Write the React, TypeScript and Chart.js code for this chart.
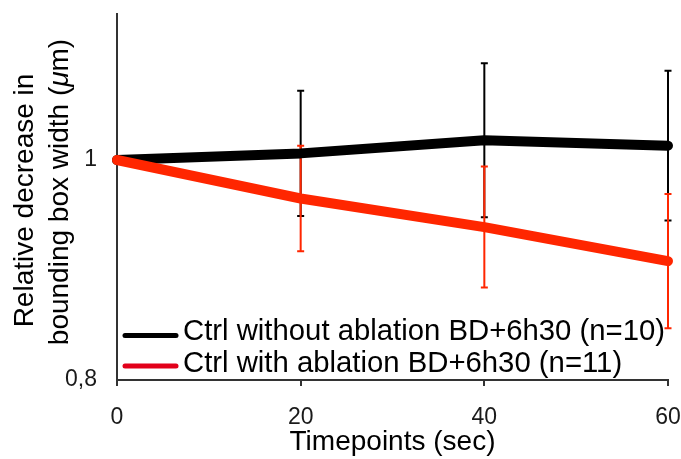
import React, { useEffect, useRef } from 'react';
import { Chart, registerables } from 'chart.js';

Chart.register(...registerables);

const FONT = '"Liberation Sans", Arial, Helvetica, sans-serif';

const timepoints = [0, 20, 40, 60];
const ctrlWithoutMean = [1.0, 1.006, 1.018, 1.013];
const ctrlWithoutErr = [0, 0.057, 0.07, 0.068];
const ctrlWithMean = [1.0, 0.965, 0.939, 0.908];
const ctrlWithErr = [0, 0.048, 0.055, 0.061];
const xTickValues = [0, 20, 40, 60];
const yTickValues = [0.8, 1.0];
const seriesLabels = ['Ctrl without ablation BD+6h30 (n=10)', 'Ctrl with ablation BD+6h30 (n=11)'];
const xTitle = 'Timepoints (sec)';
const yTitleLine1 = 'Relative decrease in';
const yTitleLine2Parts = ['bounding box width (', 'μ', 'm)'];

const BLACK = '#000000';
const RED = '#FF2600';
const LEGEND_RED = '#E2001A';

const errorBarPlugin = {
  id: 'errorBars',
  beforeDatasetsDraw(chart: any) {
    const { ctx, scales } = chart;
    const x = scales.x;
    const y = scales.y;
    const sets = [
      { mean: ctrlWithoutMean, err: ctrlWithoutErr, color: BLACK },
      { mean: ctrlWithMean, err: ctrlWithErr, color: RED },
    ];
    ctx.save();
    ctx.lineWidth = 2;
    ctx.lineCap = 'butt';
    for (const s of sets) {
      ctx.strokeStyle = s.color;
      for (let i = 0; i < timepoints.length; i++) {
        if (!s.err[i]) continue;
        const px = x.getPixelForValue(timepoints[i]);
        const top = y.getPixelForValue(s.mean[i] + s.err[i]);
        const bot = y.getPixelForValue(s.mean[i] - s.err[i]);
        ctx.beginPath();
        ctx.moveTo(px, top);
        ctx.lineTo(px, bot);
        ctx.moveTo(px - 3.5, top);
        ctx.lineTo(px + 3.5, top);
        ctx.moveTo(px - 3.5, bot);
        ctx.lineTo(px + 3.5, bot);
        ctx.stroke();
      }
    }
    ctx.restore();
  },
};

const overlayPlugin = {
  id: 'overlay',
  afterDraw(chart: any) {
    const { ctx } = chart;
    ctx.save();
    const rows = [
      { label: seriesLabels[0], color: BLACK, lineY: 335.5, baseY: 340 },
      { label: seriesLabels[1], color: LEGEND_RED, lineY: 366, baseY: 372 },
    ];
    ctx.font = `29.3px ${FONT}`;
    ctx.textBaseline = 'alphabetic';
    ctx.textAlign = 'left';
    for (const r of rows) {
      ctx.strokeStyle = r.color;
      ctx.lineWidth = 5;
      ctx.lineCap = 'round';
      ctx.beginPath();
      ctx.moveTo(125, r.lineY);
      ctx.lineTo(176, r.lineY);
      ctx.stroke();
      ctx.fillStyle = '#000';
      ctx.fillText(r.label, 183, r.baseY);
    }

    ctx.fillStyle = '#000';
    ctx.textBaseline = 'alphabetic';
    ctx.textAlign = 'left';
    ctx.save();
    ctx.translate(33, 200.5);
    ctx.rotate(-Math.PI / 2);
    ctx.font = `28px ${FONT}`;
    const w1 = ctx.measureText(yTitleLine1).width;
    ctx.fillText(yTitleLine1, -w1 / 2, 0);
    ctx.restore();
    ctx.save();
    ctx.translate(68, 192);
    ctx.rotate(-Math.PI / 2);
    const normal = `28px ${FONT}`;
    const italic = `italic 28px ${FONT}`;
    ctx.font = normal;
    const a = ctx.measureText(yTitleLine2Parts[0]).width;
    ctx.font = italic;
    const b = ctx.measureText(yTitleLine2Parts[1]).width;
    ctx.font = normal;
    const c = ctx.measureText(yTitleLine2Parts[2]).width;
    let cx = -(a + b + c) / 2;
    ctx.font = normal;
    ctx.fillText(yTitleLine2Parts[0], cx, 0);
    cx += a;
    ctx.font = italic;
    ctx.fillText(yTitleLine2Parts[1], cx, 0);
    cx += b;
    ctx.font = normal;
    ctx.fillText(yTitleLine2Parts[2], cx, 0);
    ctx.restore();

    ctx.restore();
  },
};

function zeroPadding(scale: any) {
  scale.paddingTop = 0;
  scale.paddingBottom = 0;
  scale.paddingLeft = 0;
  scale.paddingRight = 0;
}

export default function App() {
  const canvasRef = useRef<HTMLCanvasElement | null>(null);

  useEffect(() => {
    const canvas = canvasRef.current;
    if (!canvas) return;
    const chart = new Chart(canvas, {
      type: 'line',
      data: {
        datasets: [
          {
            label: seriesLabels[0],
            data: timepoints.map((t, i) => ({ x: t, y: ctrlWithoutMean[i] })),
            borderColor: BLACK,
            backgroundColor: BLACK,
            borderWidth: 10,
            pointRadius: 0,
            borderCapStyle: 'round',
            borderJoinStyle: 'round',
            tension: 0,
            clip: false,
            order: 2,
          },
          {
            label: seriesLabels[1],
            data: timepoints.map((t, i) => ({ x: t, y: ctrlWithMean[i] })),
            borderColor: RED,
            backgroundColor: RED,
            borderWidth: 10,
            pointRadius: 0,
            borderCapStyle: 'round',
            borderJoinStyle: 'round',
            tension: 0,
            clip: false,
            order: 1,
          },
        ],
      },
      options: {
        responsive: false,
        animation: false,
        devicePixelRatio: 1,
        layout: { autoPadding: false, padding: { left: 0, right: 13, top: 14, bottom: 0 } },
        plugins: {
          legend: { display: false },
          tooltip: { enabled: false },
        },
        scales: {
          x: {
            type: 'linear',
            min: 0,
            max: 60,
            afterBuildTicks: (scale: any) => {
              scale.ticks = xTickValues.map((v) => ({ value: v }));
            },
            afterFit: (scale: any) => {
              scale.height = 79;
              zeroPadding(scale);
            },
            ticks: {
              font: { family: FONT, size: 23 },
              color: '#1a1a1a',
              padding: 18,
              maxRotation: 0,
              autoSkip: false,
            },
            grid: {
              display: true,
              drawOnChartArea: false,
              drawTicks: true,
              tickLength: 6,
              color: '#333333',
              lineWidth: 2,
            },
            border: { display: true, color: '#333333', width: 2 },
            title: {
              display: true,
              text: xTitle,
              color: '#000',
              font: { family: FONT, size: 28 },
              padding: { top: 0, bottom: 0 },
            },
          },
          y: {
            type: 'linear',
            min: 0.8,
            max: 1.1327,
            afterBuildTicks: (scale: any) => {
              scale.ticks = yTickValues.map((v) => ({ value: v }));
            },
            afterFit: (scale: any) => {
              scale.width = 117;
              zeroPadding(scale);
            },
            ticks: {
              font: { family: FONT, size: 23 },
              color: '#1a1a1a',
              padding: 20,
              callback: (v: any) => String(Math.round(Number(v) * 10) / 10).replace('.', ','),
            },
            grid: { display: false, drawTicks: false },
            border: { display: true, color: '#333333', width: 2 },
          },
        },
      },
      plugins: [errorBarPlugin, overlayPlugin],
    } as any);
    return () => chart.destroy();
  }, []);

  return (
    <div style={{ position: 'fixed', left: 0, top: 0, width: 681, height: 459, background: '#fff' }}>
      <canvas ref={canvasRef} width={681} height={459} style={{ width: 681, height: 459, display: 'block' }} />
    </div>
  );
}
